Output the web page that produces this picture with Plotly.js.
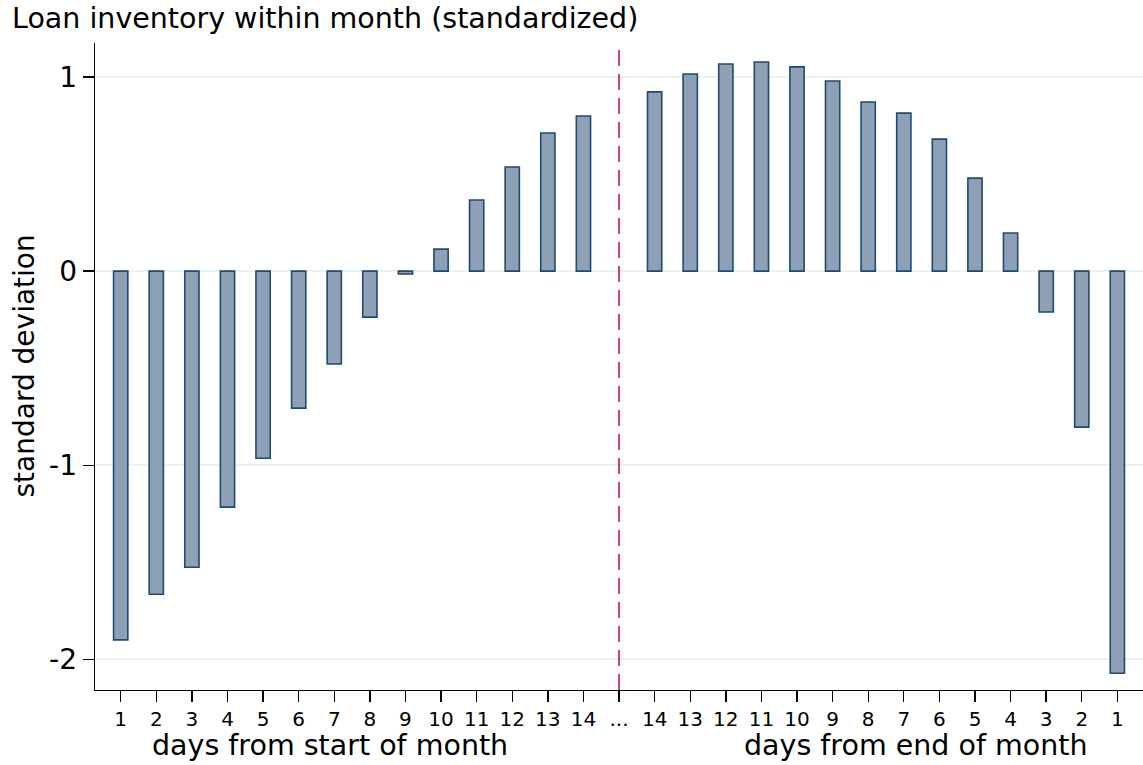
<!DOCTYPE html>
<html>
<head>
<meta charset="utf-8">
<script src="https://cdn.plot.ly/plotly-3.0.1.min.js"></script>
<style>html,body{margin:0;padding:0;background:#fff;}#chart{width:1143px;height:765px;}</style>
</head>
<body>
<div id="chart"></div>
<script>
const startDays = [1, 2, 3, 4, 5, 6, 7, 8, 9, 10, 11, 12, 13, 14];
const startValues = [-1.90, -1.665, -1.526, -1.216, -0.964, -0.706, -0.479, -0.237, -0.015, 0.113, 0.366, 0.536, 0.711, 0.799];
const endDays = [14, 13, 12, 11, 10, 9, 8, 7, 6, 5, 4, 3, 2, 1];
const endValues = [0.923, 1.015, 1.067, 1.077, 1.052, 0.979, 0.871, 0.814, 0.680, 0.479, 0.196, -0.211, -0.804, -2.072];
const separatorLabel = '...';
const yTickVals = [-2, -1, 0, 1];
const yTickText = ['-2', '-1', '0', '1'];

const tickLabels = startDays.map(String).concat([separatorLabel], endDays.map(String));
const tickPos = tickLabels.map((_, i) => i + 1);
const sepPos = startDays.length + 1;
const xStart = startDays.map((_, i) => i + 1);
const xEnd = endDays.map((_, i) => sepPos + 1 + i);

const font = 'DejaVu Sans, sans-serif';
const barStyle = {color: '#8da0b5', line: {color: '#1f4a73', width: 1.6}};

const traces = [
  {type: 'bar', x: xStart.concat(xEnd), y: startValues.concat(endValues), width: 0.4, marker: barStyle, hoverinfo: 'y', showlegend: false}
];

const layout = {
  width: 1143, height: 765,
  margin: {l: 95, r: 0, t: 43, b: 75},
  paper_bgcolor: '#fff', plot_bgcolor: '#fff',
  font: {family: font, color: '#000'},
  title: {text: 'Loan inventory within month (standardized)', font: {family: font, size: 28.5, color: '#000'},
          x: 0.0105, xanchor: 'left', xref: 'container', y: 1 - 18 / 765, yanchor: 'middle', yref: 'container'},
  xaxis: {
    range: [0.278, 29.72], tickmode: 'array', tickvals: tickPos, ticktext: tickLabels,
    ticks: 'outside', ticklen: 11, tickwidth: 1.4, tickcolor: '#000',
    tickfont: {family: font, size: 20, color: '#000'},
    showline: true, linecolor: '#000', linewidth: 1.4, showgrid: false, zeroline: false, fixedrange: true
  },
  yaxis: {
    range: [-2.158, 1.175], tickmode: 'array', tickvals: yTickVals, ticktext: yTickText,
    ticks: 'outside', ticklen: 11, tickwidth: 1.4, tickcolor: '#000',
    tickfont: {family: font, size: 28, color: '#000'},
    showline: true, linecolor: '#000', linewidth: 1.4,
    showgrid: true, gridcolor: '#eaf2f3', gridwidth: 2, zeroline: false, fixedrange: true
  },
  shapes: [
    {type: 'line', xref: 'x', yref: 'paper', x0: sepPos, x1: sepPos, y0: 0, y1: 1,
     line: {color: '#c01848', width: 1.6, dash: '16px,8px'}}
  ],
  annotations: [
    {text: 'days from start of month', xref: 'x', yref: 'paper', x: 6.87, y: 0, yshift: -55, xanchor: 'center', yanchor: 'middle',
     showarrow: false, font: {family: font, size: 28.5, color: '#000'}},
    {text: 'days from end of month', xref: 'x', yref: 'paper', x: 23.33, y: 0, yshift: -55, xanchor: 'center', yanchor: 'middle',
     showarrow: false, font: {family: font, size: 28.5, color: '#000'}},
    {text: 'standard deviation', xref: 'paper', yref: 'paper', x: -71 / 1048, y: 0.5, xanchor: 'center', yanchor: 'middle',
     textangle: -90, showarrow: false, font: {family: font, size: 28, color: '#000'}}
  ],
  bargap: 0
};

Plotly.newPlot('chart', traces, layout, {displayModeBar: false, staticPlot: true});
</script>
</body>
</html>
